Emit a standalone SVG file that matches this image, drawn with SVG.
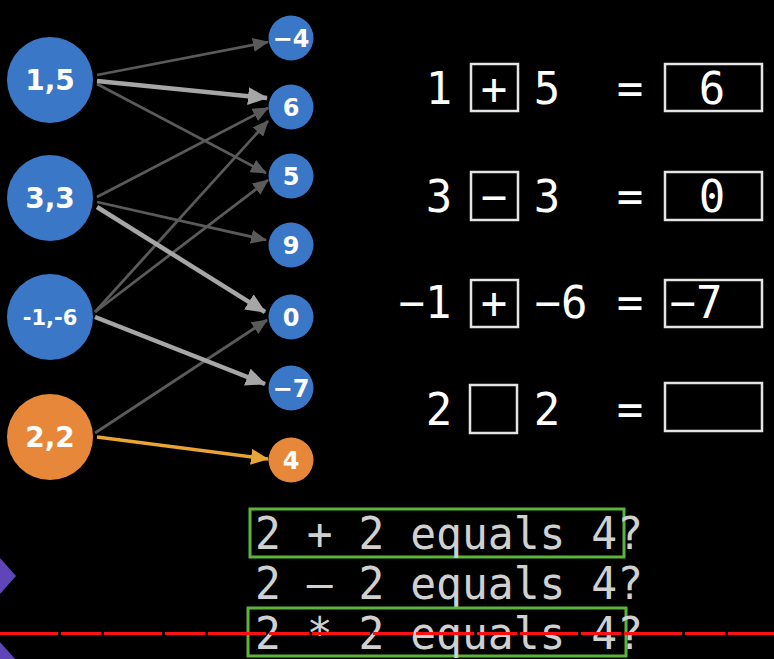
<svg xmlns="http://www.w3.org/2000/svg" width="774" height="659" viewBox="0 0 774 659">
<style>
.big{fill:#3a77c6}
.org{fill:#e6873a}
.lb{font-family:"DejaVu Sans","Liberation Sans",sans-serif;font-weight:bold;fill:#fff;text-anchor:middle}
.thin{stroke:#5a5a5a;stroke-width:2.8;fill:none}
.thick{stroke:#a6a6a6;stroke-width:4.5;fill:none}
.yel{stroke:#e8a535;stroke-width:3.5;fill:none}
.mono{font-family:"DejaVu Sans Mono","Liberation Mono",monospace;fill:#fff;font-size:44px;text-anchor:middle}
.box{fill:none;stroke:#e4e4e4;stroke-width:2.5}
.btxt{font-family:"DejaVu Sans Mono","Liberation Mono",monospace;fill:#d0d0d0;font-size:45px}
.gbox{fill:none;stroke:#5db43c;stroke-width:3}
</style>
<defs>
<marker id="ah" markerUnits="userSpaceOnUse" markerWidth="16" markerHeight="14" refX="15" refY="7" orient="auto"><path d="M0,0 L16,7 L0,14 Z" fill="#5a5a5a"/></marker>
<marker id="ahT" markerUnits="userSpaceOnUse" markerWidth="20" markerHeight="18" refX="19" refY="9" orient="auto"><path d="M0,0 L20,9 L0,18 Z" fill="#a6a6a6"/></marker>
<marker id="ahY" markerUnits="userSpaceOnUse" markerWidth="18" markerHeight="16" refX="17" refY="8" orient="auto"><path d="M0,0 L18,8 L0,16 Z" fill="#e8a535"/></marker>
</defs>
<rect width="774" height="659" fill="#000"/>
<g id="connectors">
<line class="thin" x1="97" y1="75" x2="268" y2="42" marker-end="url(#ah)"/>
<line class="thin" x1="97" y1="84" x2="266" y2="173" marker-end="url(#ah)"/>
<line class="thin" x1="97" y1="197" x2="268" y2="108" marker-end="url(#ah)"/>
<line class="thin" x1="97" y1="202" x2="266" y2="240" marker-end="url(#ah)"/>
<line class="thin" x1="95" y1="312" x2="268" y2="121" marker-end="url(#ah)"/>
<line class="thin" x1="95" y1="312" x2="268" y2="180" marker-end="url(#ah)"/>
<line class="thin" x1="95" y1="433" x2="267" y2="320" marker-end="url(#ah)"/>
<line class="thick" x1="97" y1="81" x2="267" y2="98" marker-end="url(#ahT)"/>
<line class="thick" x1="97" y1="207" x2="265" y2="312" marker-end="url(#ahT)"/>
<line class="thick" x1="95" y1="317" x2="265" y2="384" marker-end="url(#ahT)"/>
<line class="yel" x1="97" y1="437" x2="268" y2="459" marker-end="url(#ahY)"/>
</g>
<g id="n15"><circle class="big" cx="50" cy="80" r="43"/><text class="lb" x="50" y="90" font-size="28">1,5</text></g>
<g id="n33"><circle class="big" cx="50" cy="198" r="43"/><text class="lb" x="50" y="208" font-size="28">3,3</text></g>
<g id="n16"><circle class="big" cx="50" cy="317" r="43"/><text class="lb" x="50" y="325" font-size="21">-1,-6</text></g>
<g id="n22"><circle class="org" cx="50" cy="437" r="43"/><text class="lb" x="50" y="447" font-size="28" fill="#f3ece0">2,2</text></g>
<g id="rm4"><circle class="big" cx="291" cy="38" r="22.5"/><text class="lb" x="291" y="47" font-size="24">−4</text></g>
<g id="r6"><circle class="big" cx="291" cy="107" r="22.5"/><text class="lb" x="291" y="116" font-size="24">6</text></g>
<g id="r5"><circle class="big" cx="291" cy="176" r="22.5"/><text class="lb" x="291" y="185" font-size="24">5</text></g>
<g id="r9"><circle class="big" cx="291" cy="245" r="22.5"/><text class="lb" x="291" y="254" font-size="24">9</text></g>
<g id="r0"><circle class="big" cx="291" cy="317" r="22.5"/><text class="lb" x="291" y="326" font-size="24" font-family="DejaVu Sans Mono">0</text></g>
<g id="rm7"><circle class="big" cx="291" cy="388" r="22.5"/><text class="lb" x="291" y="397" font-size="24">−7</text></g>
<g id="r4"><circle class="org" cx="291" cy="460" r="22.5"/><text class="lb" x="291" y="469" font-size="24" fill="#f3ece0">4</text></g>
<g id="eq">
<text class="mono" x="439" y="104">1</text><rect class="box" x="471" y="64" width="47" height="47"/><text class="mono" x="494" y="104">+</text><text class="mono" x="547" y="104">5</text><text class="mono" x="630" y="104">=</text><rect class="box" x="665" y="64" width="97" height="47"/><text class="mono" x="712" y="104">6</text>
<text class="mono" x="439" y="212">3</text><rect class="box" x="471" y="172" width="47" height="48"/><text class="mono" x="494" y="212">−</text><text class="mono" x="547" y="212">3</text><text class="mono" x="630" y="212">=</text><rect class="box" x="665" y="172" width="97" height="48"/><text class="mono" x="712" y="212">0</text>
<text class="mono" x="425" y="318">−1</text><rect class="box" x="471" y="280" width="47" height="47"/><text class="mono" x="494" y="318">+</text><text class="mono" x="561" y="318">−6</text><text class="mono" x="630" y="318">=</text><rect class="box" x="665" y="280" width="97" height="47"/><text class="mono" x="696" y="318">−7</text>
<text class="mono" x="439" y="425">2</text><rect class="box" x="470" y="385" width="47" height="48"/><text class="mono" x="547" y="425">2</text><text class="mono" x="630" y="425">=</text><rect class="box" x="665" y="383" width="97" height="48"/>
</g>
<g id="questions">
<rect class="gbox" x="250" y="509" width="374" height="48"/>
<text class="btxt" x="255" y="549" textLength="388" lengthAdjust="spacingAndGlyphs">2 + 2 equals 4?</text>
<text class="btxt" x="255" y="599" textLength="388" lengthAdjust="spacingAndGlyphs">2 – 2 equals 4?</text>
<rect class="gbox" x="248" y="608" width="378" height="48"/>
<text class="btxt" x="255" y="649" textLength="388" lengthAdjust="spacingAndGlyphs">2 * 2 equals 4?</text>
</g>
<path d="M0,558 L16,576 L0,594 Z" fill="#5f45b8"/>
<path d="M0,642 L16,660 L0,678 Z" fill="#5f45b8"/>
<line x1="0" y1="633.5" x2="774" y2="633.5" stroke="#ff1010" stroke-width="3" stroke-dasharray="58 3 40 3"/>
</svg>
